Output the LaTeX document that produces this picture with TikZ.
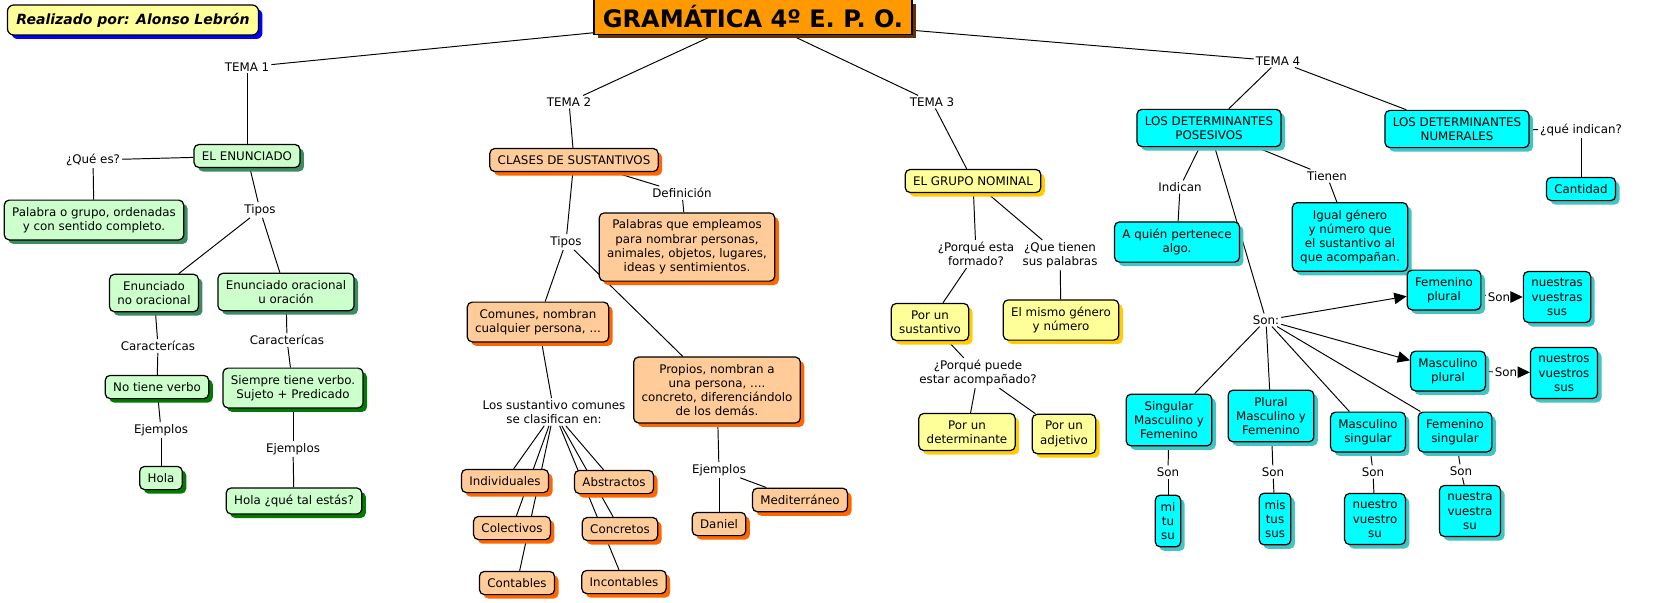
\documentclass[tikz,border=0pt]{standalone}
\usepackage{fontspec}
\setmainfont{DejaVu Sans}
\usetikzlibrary{shadows,backgrounds,arrows.meta}
\definecolor{verde}{HTML}{CCFFCC}
\definecolor{verdesom}{HTML}{3C8C60}
\definecolor{verdesomb}{HTML}{007A00}
\definecolor{naranja}{HTML}{FFCC99}
\definecolor{naranjasom}{HTML}{FF6600}
\definecolor{amarillo}{HTML}{FFFF99}
\definecolor{amarillosom}{HTML}{FFCC00}
\definecolor{cian}{HTML}{00FFFF}
\definecolor{ciansom}{HTML}{40C4C4}
\definecolor{titulo}{HTML}{FF9900}
\definecolor{titulosom}{HTML}{663300}
\tikzset{
  concepto/.style={
    shape = rectangle,
    rounded corners = 2.8pt,
    draw,
    line width = 0.7pt,
    align = center,
    inner xsep = 4.5pt,
    inner ysep = 4pt
  },
  verdebox/.style={
    concepto,
    fill = verde,
    drop shadow = {shadow xshift=.08cm, shadow yshift=-.08cm, fill=verdesom, opacity=1}
  },
  verdebox2/.style={
    concepto,
    fill = verde,
    drop shadow = {shadow xshift=.08cm, shadow yshift=-.08cm, fill=verdesomb, opacity=1}
  },
  naranjabox/.style={
    concepto,
    fill = naranja,
    drop shadow = {shadow xshift=.08cm, shadow yshift=-.08cm, fill=naranjasom, opacity=1}
  },
  amarillobox/.style={
    concepto,
    fill = amarillo,
    drop shadow = {shadow xshift=.08cm, shadow yshift=-.08cm, fill=amarillosom, opacity=1}
  },
  cianbox/.style={
    concepto,
    fill = cian,
    drop shadow = {shadow xshift=.08cm, shadow yshift=-.08cm, fill=ciansom, opacity=1}
  },
  enlace/.style={
    inner sep = 1pt,
    align = center
  },
  conector/.style={
    line width = 0.55pt
  },
  flecha/.style={
    conector,
    -{Triangle[length=7pt,width=6.5pt]}
  }
}

\begin{document}
\begin{tikzpicture}[x=0.02cm, y=-0.02cm, font=\fontsize{6.75}{8.1}\selectfont]
\useasboundingbox (0,0) rectangle (1666,602);

\node[concepto, fill=amarillo, rounded corners=3.5pt, minimum width=5.02cm, minimum height=0.6cm,
  drop shadow={shadow xshift=.08cm, shadow yshift=-.08cm, fill=blue, opacity=1},
  font=\fontsize{8}{9.6}\selectfont\bfseries\itshape] (autor) at (133,20) {Realizado por: Alonso Lebrón};
\node[draw, line width=0.7pt, fill=titulo, minimum width=6.36cm, minimum height=0.62cm, inner xsep=2pt,
  drop shadow={shadow xshift=.08cm, shadow yshift=-.08cm, fill=titulosom, opacity=1},
  font=\fontsize{13.7}{16}\selectfont\bfseries] (gram) at (753,17) {GRAMÁTICA 4º E. P. O.};

\node[enlace] (tema1) at (247,67) {TEMA 1};
\node[enlace] (tema2) at (569,102) {TEMA 2};
\node[enlace] (tema3) at (932,102) {TEMA 3};
\node[enlace] (tema4) at (1278,61) {TEMA 4};

\node[verdebox] (enun) at (247,156) {EL ENUNCIADO};
\node[enlace] (quees) at (93,160) {¿Qué es?};
\node[verdebox] (palabra) at (94,220) {Palabra o grupo, ordenadas\\y con sentido completo.};
\node[enlace] (tipos1) at (260,210) {Tipos};
\node[verdebox] (nooracional) at (154,293) {Enunciado\\no oracional};
\node[verdebox] (oracional) at (286,292) {Enunciado oracional\\u oración};
\node[enlace] (carac1) at (158,346) {Caracterícas};
\node[enlace] (carac2) at (287,340) {Caracterícas};
\node[verdebox2] (noverbo) at (157,387) {No tiene verbo};
\node[verdebox2] (siempre) at (293,388) {Siempre tiene verbo.\\Sujeto + Predicado};
\node[enlace] (ejem1) at (161,430) {Ejemplos};
\node[enlace] (ejem2) at (293,449) {Ejemplos};
\node[verdebox2] (hola) at (161,478) {Hola};
\node[verdebox2] (holaque) at (294,501) {Hola ¿qué tal estás?};

\node[naranjabox] (clases) at (574,160) {CLASES DE SUSTANTIVOS};
\node[enlace] (defin) at (682,193) {Definición};
\node[naranjabox] (palabras) at (687,247) {Palabras que empleamos\\para nombrar personas,\\animales, objetos, lugares,\\ideas y sentimientos.};
\node[enlace] (tipos2) at (566,242) {Tipos};
\node[naranjabox] (comunes) at (538,322) {Comunes, nombran\\cualquier persona, ...};
\node[naranjabox] (propios) at (717,390) {Propios, nombran a\\una persona, ....\\concreto, diferenciándolo\\de los demás.};
\node[enlace] (clasif) at (554,412) {Los sustantivo comunes\\se clasifican en:};
\node[naranjabox] (indiv) at (505,481) {Individuales};
\node[naranjabox] (abstr) at (614,482) {Abstractos};
\node[naranjabox] (colec) at (512,528) {Colectivos};
\node[naranjabox] (concr) at (620,529) {Concretos};
\node[naranjabox] (contab) at (517,583) {Contables};
\node[naranjabox] (incont) at (624,582) {Incontables};
\node[enlace] (ejem3) at (719,470) {Ejemplos};
\node[naranjabox] (daniel) at (719,524) {Daniel};
\node[naranjabox] (medit) at (800,500) {Mediterráneo};

\node[amarillobox] (grupo) at (973,181) {EL GRUPO NOMINAL};
\node[enlace] (formado) at (976,254) {¿Porqué esta\\formado?};
\node[enlace] (tienenq) at (1060,255) {¿Que tienen\\sus palabras};
\node[amarillobox] (sustantivo) at (930,322) {Por un\\sustantivo};
\node[amarillobox] (mismo) at (1061,320) {El mismo género\\y número};
\node[enlace] (puede) at (978,373) {¿Porqué puede\\estar acompañado?};
\node[amarillobox] (determ) at (967,432) {Por un\\determinante};
\node[amarillobox] (adjetivo) at (1064,434) {Por un\\adjetivo};

\node[cianbox] (posesivos) at (1209,128) {LOS DETERMINANTES\\POSESIVOS};
\node[cianbox] (numerales) at (1457,129) {LOS DETERMINANTES\\NUMERALES};
\node[enlace] (queind) at (1581,130) {¿qué indican?};
\node[cianbox] (cantidad) at (1581,189) {Cantidad};
\node[enlace] (indican) at (1180,187) {Indican};
\node[enlace] (tienen) at (1327,176) {Tienen};
\node[cianbox] (quien) at (1177,242) {A quién pertenece\\algo.};
\node[cianbox] (igual) at (1350,237) {Igual género\\y número que\\el sustantivo al\\que acompañan.};
\node[enlace] (son) at (1266,320) {Son:};
\node[cianbox] (fempl) at (1444,290) {Femenino\\plural};
\node[enlace] (sona) at (1499,297) {Son};
\node[cianbox] (nuestras) at (1557,297) {nuestras\\vuestras\\sus};
\node[cianbox] (mascpl) at (1448,371) {Masculino\\plural};
\node[enlace] (sonb) at (1506,372) {Son};
\node[cianbox] (nuestros) at (1564,373) {nuestros\\vuestros\\sus};
\node[cianbox] (singmf) at (1169,420) {Singular\\Masculino y\\Femenino};
\node[cianbox] (plmf) at (1271,416) {Plural\\Masculino y\\Femenino};
\node[cianbox] (mascsg) at (1368,432) {Masculino\\singular};
\node[cianbox] (femsg) at (1455,432) {Femenino\\singular};
\node[enlace] (son1) at (1168,472) {Son};
\node[enlace] (son2) at (1273,472) {Son};
\node[enlace] (son3) at (1373,472) {Son};
\node[enlace] (son4) at (1461,471) {Son};
\node[cianbox, inner xsep=3pt] (mitusu) at (1168,521) {mi\\tu\\su};
\node[cianbox, inner xsep=3pt] (mistussus) at (1275,519) {mis\\tus\\sus};
\node[cianbox] (nuestro) at (1375,519) {nuestro\\vuestro\\su};
\node[cianbox] (nuestra) at (1470,511) {nuestra\\vuestra\\su};

\begin{scope}[on background layer]
\draw[conector] (gram) -- (tema1);
\draw[conector] (gram) -- (tema2);
\draw[conector] (gram) -- (tema3);
\draw[conector] (gram) -- (tema4);
\draw[conector] (tema1) -- (enun);
\draw[conector] (enun) -- (quees);
\draw[conector] (quees) -- (palabra);
\draw[conector] (enun) -- (tipos1);
\draw[conector] (tipos1) -- (nooracional);
\draw[conector] (tipos1) -- (oracional);
\draw[conector] (nooracional) -- (carac1);
\draw[conector] (carac1) -- (noverbo);
\draw[conector] (oracional) -- (carac2);
\draw[conector] (carac2) -- (siempre);
\draw[conector] (noverbo) -- (ejem1);
\draw[conector] (ejem1) -- (hola);
\draw[conector] (siempre) -- (ejem2);
\draw[conector] (ejem2) -- (holaque);
\draw[conector] (tema2) -- (clases);
\draw[conector] (clases) -- (defin);
\draw[conector] (defin) -- (palabras);
\draw[conector] (clases) -- (tipos2);
\draw[conector] (tipos2) -- (comunes);
\draw[conector] (tipos2) -- (propios);
\draw[conector] (comunes) -- (clasif);
\foreach \c in {indiv,colec,contab,abstr,concr,incont}
  \draw[conector] (clasif) -- (\c);
\draw[conector] (propios) -- (ejem3);
\draw[conector] (ejem3) -- (daniel);
\draw[conector] (ejem3) -- (medit);
\draw[conector] (tema3) -- (grupo);
\draw[conector] (grupo) -- (formado);
\draw[conector] (grupo) -- (tienenq);
\draw[conector] (formado) -- (sustantivo);
\draw[conector] (tienenq) -- (mismo);
\draw[conector] (sustantivo) -- (puede);
\draw[conector] (puede) -- (determ);
\draw[conector] (puede) -- (adjetivo);
\draw[conector] (tema4) -- (posesivos);
\draw[conector] (tema4) -- (numerales);
\draw[conector] (numerales) -- (queind);
\draw[conector] (queind) -- (cantidad);
\draw[conector] (posesivos) -- (indican);
\draw[conector] (indican) -- (quien);
\draw[conector] (posesivos) -- (tienen);
\draw[conector] (tienen) -- (igual);
\draw[conector] (posesivos) -- (son);
\draw[flecha] (son) -- (fempl);
\draw[flecha] (son) -- (mascpl);
\foreach \c in {singmf,plmf,mascsg,femsg}
  \draw[conector] (son) -- (\c);
\draw[conector] (fempl) -- (sona);
\draw[flecha] (sona) -- (nuestras);
\draw[conector] (mascpl) -- (sonb);
\draw[flecha] (sonb) -- (nuestros);
\draw[conector] (singmf) -- (son1);
\draw[conector] (son1) -- (mitusu);
\draw[conector] (plmf) -- (son2);
\draw[conector] (son2) -- (mistussus);
\draw[conector] (mascsg) -- (son3);
\draw[conector] (son3) -- (nuestro);
\draw[conector] (femsg) -- (son4);
\draw[conector] (son4) -- (nuestra);
\end{scope}
\end{tikzpicture}
\end{document}
